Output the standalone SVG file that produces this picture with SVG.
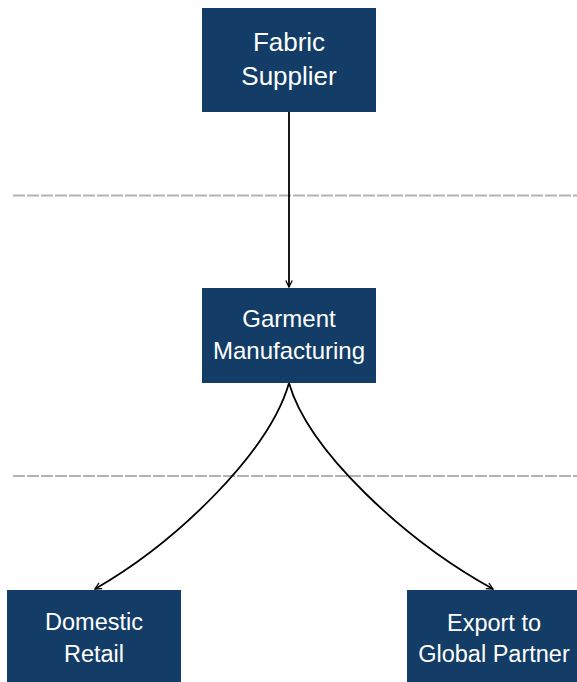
<svg xmlns="http://www.w3.org/2000/svg" width="577" height="682" viewBox="0 0 577 682">
<style>
.node rect{fill:#133d66;}
.node text{fill:#ffffff;font-family:"Liberation Sans",Arial,Helvetica,sans-serif;text-anchor:middle;}
.sep{stroke:#b3b3b3;stroke-width:2;stroke-dasharray:12 2;fill:none;}
.edge{stroke:#000;stroke-width:1.8;fill:none;marker-end:url(#arr);}
</style>
<defs>
<marker id="arr" viewBox="0 0 10 10" refX="9" refY="5" markerWidth="4.5" markerHeight="4.5" orient="auto" markerUnits="strokeWidth">
<path d="M1,1 L9,5 L1,9" fill="none" stroke="#000" stroke-width="1.6"/>
</marker>
</defs>
<g id="separators">
<line class="sep" x1="13" y1="195.5" x2="577" y2="195.5"/>
<line class="sep" x1="13" y1="476" x2="577" y2="476"/>
</g>
<g id="connectors">
<path class="edge" d="M289,112 L289,287"/>
<path class="edge" d="M289,383 C270,450 180,540 95,589"/>
<path class="edge" d="M289,383 C308,450 404,540 493,589"/>
</g>
<g id="fabric-supplier" class="node">
<rect x="202" y="8" width="174" height="104"/>
<text x="289" y="51" font-size="26">Fabric</text>
<text x="289" y="85" font-size="26">Supplier</text>
</g>
<g id="garment-manufacturing" class="node">
<rect x="202" y="288" width="174" height="95"/>
<text x="289" y="327" font-size="24">Garment</text>
<text x="289" y="358.5" font-size="24">Manufacturing</text>
</g>
<g id="domestic-retail" class="node">
<rect x="7" y="590" width="174" height="94"/>
<text x="94" y="630" font-size="23.5">Domestic</text>
<text x="94" y="662" font-size="23.5">Retail</text>
</g>
<g id="export-global-partner" class="node">
<rect x="407" y="590" width="174" height="94"/>
<text x="494" y="631" font-size="23.5">Export to</text>
<text x="494" y="662" font-size="23.5">Global Partner</text>
</g>
</svg>
